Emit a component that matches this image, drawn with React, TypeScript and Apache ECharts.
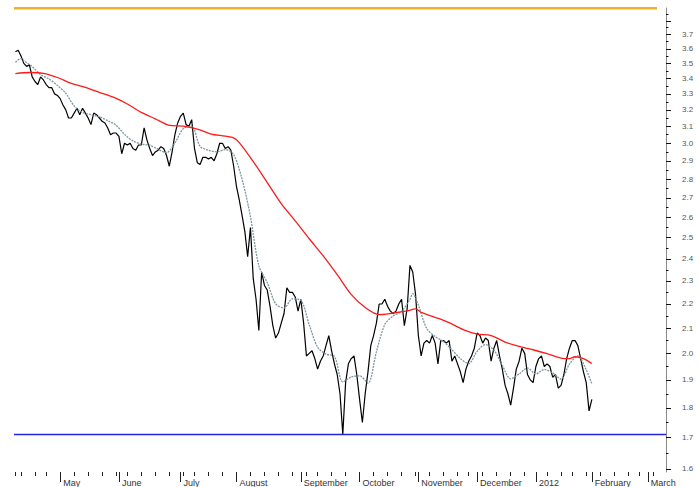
import React, { useEffect, useRef } from "react";
import * as echarts from "echarts";

// ---- calendar (trading days) ----
const START_DATE = "2011-04-07";
const DAY_COUNT = 233;
const HOLIDAYS = [
  "2011-04-22", "2011-05-30", "2011-07-04", "2011-09-05", "2011-11-24",
  "2011-12-26", "2012-01-02", "2012-01-16", "2012-02-20",
];
const MONTH_LABELS = [
  "2012", "February", "March", "April", "May", "June", "July",
  "August", "September", "October", "November", "December",
];

// ---- y axis ticks ----
const Y_MIN = 1.5907;
const Y_MAX = 3.895;
const Y_LABEL_VALUES = [
  1.6, 1.7, 1.8, 1.9, 2.0, 2.1, 2.2, 2.3, 2.4, 2.5, 2.6,
  2.7, 2.8, 2.9, 3.0, 3.1, 3.2, 3.3, 3.4, 3.5, 3.6, 3.7,
];
const Y_MAJOR_TICKS = [...Y_LABEL_VALUES, 3.8];
const Y_MINOR_TICKS = [
  1.65, 1.75, 1.85, 1.95, 2.05, 2.15, 2.25, 2.35, 2.45, 2.55, 2.65,
  2.75, 2.85, 2.95, 3.05, 3.15, 3.25, 3.35, 3.45, 3.55, 3.65, 3.75, 3.85,
];

const SUPPORT_LEVEL = 1.71;

// ---- daily closes (trading-day index 0 = 2011-04-07) ----
const closes = [
  3.58, 3.59, 3.55, 3.50, 3.48, 3.49, 3.41, 3.38, 3.36, 3.41,
  3.39, 3.36, 3.34, 3.34, 3.30, 3.29, 3.27, 3.23, 3.20, 3.15,
  3.15, 3.18, 3.21, 3.17, 3.21, 3.18, 3.15, 3.11, 3.18, 3.17,
  3.15, 3.13, 3.12, 3.09, 3.05, 3.06, 3.06, 3.04, 2.94, 3.00,
  2.99, 3.00, 2.97, 2.96, 2.99, 2.99, 3.09, 3.02, 2.97, 2.93,
  2.95, 2.96, 2.98, 2.97, 2.93, 2.87, 2.95, 3.05, 3.12, 3.16,
  3.18, 3.11, 3.10, 3.14, 2.97, 2.89, 2.88, 2.92, 2.92, 2.91,
  2.92, 2.90, 2.94, 3.00, 3.00, 2.97, 2.98, 2.96, 2.87, 2.76,
  2.69, 2.61, 2.53, 2.41, 2.55, 2.31, 2.22, 2.09, 2.34, 2.28,
  2.26, 2.19, 2.11, 2.06, 2.08, 2.12, 2.16, 2.27, 2.25, 2.25,
  2.23, 2.17, 2.22, 2.12, 1.99, 2.00, 2.01, 1.98, 1.94, 1.97,
  1.99, 2.03, 2.07, 2.01, 1.96, 1.92, 1.85, 1.71, 1.89, 1.96,
  1.98, 1.99, 1.92, 1.83, 1.75, 1.85, 1.93, 2.03, 2.07, 2.12,
  2.20, 2.20, 2.22, 2.19, 2.17, 2.16, 2.17, 2.20, 2.22, 2.11,
  2.18, 2.37, 2.34, 2.24, 2.07, 1.99, 2.04, 2.05, 2.04, 2.07,
  2.04, 1.96, 2.05, 2.05, 2.04, 2.05, 1.97, 1.99, 1.96, 1.93,
  1.89, 1.94, 1.97, 1.99, 2.02, 2.08, 2.07, 2.04, 2.06, 2.05,
  1.97, 2.02, 2.05, 1.99, 1.94, 1.88, 1.85, 1.81, 1.87, 1.94,
  1.97, 2.02, 2.00, 1.92, 1.90, 1.89, 1.95, 1.98, 1.99, 1.95,
  1.96, 1.95, 1.91, 1.92, 1.87, 1.88, 1.92, 1.98, 2.02, 2.05,
  2.05, 2.03, 1.98, 1.93, 1.89, 1.79, 1.83,
];

// ---- short moving average, read at [trading-day index, value] ----
const shortMA: [number, number][] = [
  [0, 3.508], [2, 3.533], [3, 3.519], [6, 3.478], [9, 3.426], [12, 3.396],
  [15, 3.355], [18, 3.304], [21, 3.224], [24, 3.184], [27, 3.170], [30, 3.157],
  [33, 3.134], [36, 3.106], [39, 3.052], [42, 3.014], [45, 2.995], [48, 2.989],
  [51, 2.965], [54, 2.946], [57, 3.002], [60, 3.086], [63, 3.099], [66, 2.982],
  [69, 2.960], [72, 2.951], [75, 2.964], [78, 2.935], [81, 2.799], [84, 2.604],
  [87, 2.368], [90, 2.293], [93, 2.201], [96, 2.183], [99, 2.222], [102, 2.216],
  [105, 2.114], [108, 2.024], [111, 1.997], [114, 1.989], [117, 1.893], [120, 1.911],
  [123, 1.915], [126, 1.888], [129, 2.006], [132, 2.114], [135, 2.150], [138, 2.169],
  [141, 2.220], [142, 2.244], [144, 2.195], [147, 2.098], [150, 2.066], [153, 2.046],
  [156, 2.014], [159, 1.980], [162, 1.961], [165, 2.008], [168, 2.034], [171, 2.013],
  [174, 1.954], [177, 1.904], [180, 1.922], [183, 1.944], [186, 1.922], [189, 1.939],
  [192, 1.926], [195, 1.903], [198, 1.959], [201, 1.990], [204, 1.937], [206, 1.886],
];

// ---- long moving average, read at [trading-day index, value] ----
const longMA: [number, number][] = [
  [0, 3.432], [5, 3.439], [10, 3.433], [15, 3.406], [20, 3.367], [25, 3.342],
  [30, 3.310], [35, 3.279], [40, 3.236], [45, 3.184], [50, 3.145], [55, 3.106],
  [60, 3.101], [65, 3.083], [70, 3.054], [75, 3.042], [78, 3.031], [80, 3.004],
  [85, 2.896], [90, 2.781], [95, 2.670], [100, 2.583], [105, 2.495], [110, 2.414],
  [115, 2.328], [120, 2.241], [125, 2.185], [130, 2.155], [135, 2.162], [140, 2.171],
  [143, 2.179], [145, 2.165], [150, 2.144], [155, 2.122], [160, 2.094], [165, 2.076],
  [170, 2.070], [175, 2.044], [180, 2.027], [185, 2.014], [190, 1.999], [195, 1.982],
  [198, 1.980], [200, 1.987], [203, 1.980], [206, 1.961],
];

function buildTradingDays(): string[] {
  const out: string[] = [];
  const d = new Date(START_DATE + "T00:00:00Z");
  while (out.length < DAY_COUNT) {
    const wd = d.getUTCDay();
    const s = d.toISOString().slice(0, 10);
    if (wd !== 0 && wd !== 6 && HOLIDAYS.indexOf(s) < 0) out.push(s);
    d.setUTCDate(d.getUTCDate() + 1);
  }
  return out;
}

export default function App() {
  const ref = useRef<HTMLDivElement>(null);

  useEffect(() => {
    document.body.style.margin = "0";
    if (!ref.current) return;
    const chart = echarts.init(ref.current, undefined, { renderer: "svg" });

    const days = buildTradingDays();
    const monthStarts = new Set<number>();
    const weekStarts = new Set<number>([0]);
    for (let i = 1; i < days.length; i++) {
      if (days[i].slice(5, 7) !== days[i - 1].slice(5, 7)) monthStarts.add(i);
      const a = new Date(days[i] + "T00:00:00Z").getUTCDay();
      const b = new Date(days[i - 1] + "T00:00:00Z").getUTCDay();
      if (a < b) weekStarts.add(i);
    }
    const toPairs = (arr: [number, number][]) => arr.map(([i, v]) => [days[i], v]);

    const font = "Liberation Sans, Arial, sans-serif";

    chart.setOption({
      animation: false,
      grid: { left: 14, right: 33, top: 8, bottom: 8, containLabel: false },
      graphic: [
        {
          type: "rect",
          left: 14,
          top: 7,
          shape: { width: 643, height: 2.5 },
          style: { fill: "#f0b023" },
          silent: true,
        },
      ],
      xAxis: [
        {
          type: "category",
          data: days,
          boundaryGap: true,
          position: "bottom",
          axisLine: { show: false, onZero: false },
          axisTick: {
            show: true,
            alignWithLabel: true,
            length: 4,
            interval: (i: number) => weekStarts.has(i),
            lineStyle: { color: "#222", width: 1 },
          },
          axisLabel: { show: false },
          splitLine: { show: false },
        },
        {
          type: "category",
          data: days,
          boundaryGap: true,
          position: "bottom",
          axisLine: { show: false, onZero: false },
          axisTick: {
            show: true,
            alignWithLabel: true,
            length: 10,
            interval: (i: number) => monthStarts.has(i),
            lineStyle: { color: "#222", width: 1 },
          },
          axisLabel: {
            show: true,
            interval: (i: number) => monthStarts.has(i),
            formatter: (v: string) => MONTH_LABELS[parseInt(v.slice(5, 7), 10) - 1],
            align: "left",
            margin: 6,
            padding: [0, 0, 0, 3],
            fontSize: 9,
            color: "#333",
            fontFamily: font,
          },
          splitLine: { show: false },
        },
      ],
      yAxis: [
        {
          type: "log",
          logBase: 10,
          position: "right",
          min: Y_MIN,
          max: Y_MAX,
          axisLine: { show: true, lineStyle: { color: "#8a8a8a", width: 1 } },
          axisTick: {
            show: true,
            inside: false,
            length: 5,
            customValues: Y_MAJOR_TICKS,
            lineStyle: { color: "#111", width: 1 },
          },
          axisLabel: {
            show: true,
            customValues: Y_LABEL_VALUES,
            formatter: (v: number) => v.toFixed(1),
            margin: 16,
            fontSize: 8,
            color: "#555",
            fontFamily: font,
          },
          splitLine: { show: false },
        },
        {
          type: "log",
          logBase: 10,
          position: "right",
          min: Y_MIN,
          max: Y_MAX,
          axisLine: { show: false },
          axisTick: {
            show: true,
            inside: false,
            length: 2.5,
            customValues: Y_MINOR_TICKS,
            lineStyle: { color: "#111", width: 1 },
          },
          axisLabel: { show: false },
          splitLine: { show: false },
        },
      ],
      series: [
        {
          name: "Close",
          type: "line",
          xAxisIndex: 0,
          yAxisIndex: 0,
          data: closes,
          symbol: "none",
          lineStyle: { color: "#000", width: 1.2 },
          z: 3,
          markLine: {
            silent: true,
            symbol: ["none", "none"],
            label: { show: false },
            lineStyle: { color: "#2424d8", width: 1.3, type: "solid" },
            data: [{ yAxis: SUPPORT_LEVEL }],
          },
        },
        {
          name: "Short MA",
          type: "line",
          xAxisIndex: 0,
          yAxisIndex: 0,
          data: toPairs(shortMA),
          symbol: "none",
          smooth: 0.3,
          lineStyle: { color: "#7b979d", width: 1.3, type: [2, 1] },
          z: 4,
        },
        {
          name: "Long MA",
          type: "line",
          xAxisIndex: 0,
          yAxisIndex: 0,
          data: toPairs(longMA),
          symbol: "none",
          smooth: 0.3,
          lineStyle: { color: "#ff1a1a", width: 1.3 },
          z: 5,
        },
      ],
    });

    return () => chart.dispose();
  }, []);

  return <div ref={ref} style={{ width: 699, height: 487 }} />;
}
